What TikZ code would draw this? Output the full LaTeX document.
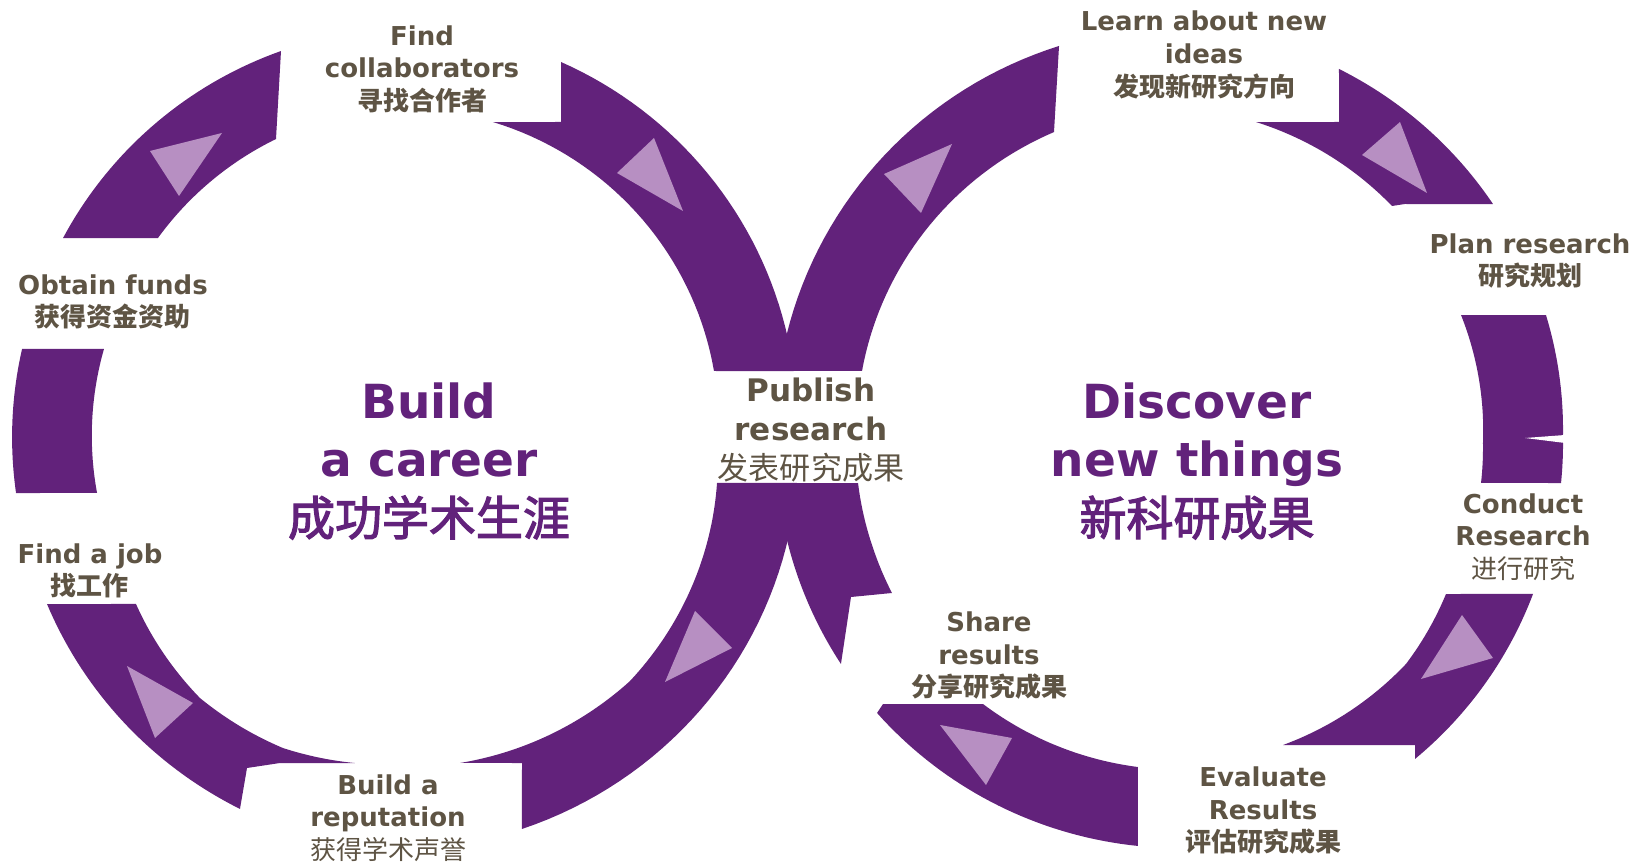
\documentclass[tikz,border=0pt]{standalone}
\usepackage{fontspec}
\setmainfont{DejaVu Sans}
\newfontfamily\cjk{Noto Sans CJK SC}
\newfontfamily\cjkhub{Noto Sans CJK SC}[FakeBold=2.5]
\definecolor{ringpurple}{RGB}{98,34,123}
\definecolor{tippurple}{RGB}{183,143,194}
\definecolor{labelbrown}{RGB}{94,84,68}
\newcommand\ringarc[6]{plot[domain=#3:#5,samples=36,variable=\t]
  ({#1+((#4)+((#6)-(#4))*(\t-(#3))/((#5)-(#3)))*cos(\t)},
   {#2+((#4)+((#6)-(#4))*(\t-(#3))/((#5)-(#3)))*sin(\t)})}
\newcommand\ringarcto[6]{-- plot[domain=#3:#5,samples=36,variable=\t]
  ({#1+((#4)+((#6)-(#4))*(\t-(#3))/((#5)-(#3)))*cos(\t)},
   {#2+((#4)+((#6)-(#4))*(\t-(#3))/((#5)-(#3)))*sin(\t)})}

\begin{document}
\begin{tikzpicture}[x=0.75pt,y=-0.75pt,
  tone/.style={fill=ringpurple},
  pointer/.style={fill=tippurple},
  lbl/.style={text=labelbrown,align=center,inner sep=0pt,
    font=\fontsize{19.5}{24.4}\selectfont\bfseries},
  hub/.style={text=ringpurple,align=center,inner sep=0pt,
    font=\fontsize{35.25}{44}\selectfont\bfseries}]
\useasboundingbox (0,0) rectangle (1643,863);

\fill[tone] \ringarc{407}{432}{-150.58}{394.9}{-108.3}{401.3} -- (276,139)
  \ringarcto{407}{432}{-114.1}{320.95}{-142.1}{315.7} -- cycle;
\fill[tone] \ringarc{407}{432}{-67.4}{400.8}{-8.95}{391.5}
  \ringarcto{407}{432}{-11.24}{313}{-74.5}{321.7} -- (561,122) -- cycle;
\fill[tone] \ringarc{407}{432}{7.45}{393.3}{73.85}{413.3} -- (522,763)
  \ringarcto{407}{432}{80.9}{335.2}{48.2}{334.3}
  \ringarcto{407}{432}{48.2}{334.3}{9.34}{314.2} -- cycle;
\fill[tone] \ringarc{407}{432}{154.46}{399}{113.9}{412.3} -- (247,768) -- (280,763)
  \ringarcto{407}{432}{98.93}{335.1}{111.43}{339.5}
  \ringarcto{407}{432}{111.43}{339.5}{127.9}{337.1}
  \ringarcto{407}{432}{127.9}{337.1}{147.6}{321} -- cycle;
\fill[tone] \ringarc{407}{432}{192.17}{393.8}{171.13}{395.7}
  \ringarcto{407}{432}{168.87}{315.9}{195.32}{314.2} -- cycle;

\fill[tone] \ringarc{1172}{440}{-170}{398.6}{-106}{409.9} -- (1054,132)
  \ringarcto{1172}{440}{-110.96}{329.8}{-167.45}{317.6} -- cycle;
\fill[tone] \ringarc{1172}{440}{-65.77}{406.9}{-36.32}{398.4} -- (1405,204)
  \ringarcto{1172}{440}{-46.77}{321.2}{-75.2}{328.9} -- (1339,122) -- cycle;
\fill[tone] \ringarc{1172}{440}{-18.48}{394.3}{-0.59}{391}
  \ringarcto{1172}{440}{-0.59}{391}{6.31}{391.4}
  \ringarcto{1172}{440}{7.92}{312}{0.55}{311}
  \ringarcto{1172}{440}{0.55}{311}{-23.39}{314.9} -- cycle;
\fill[white] (1525,438) -- (1565,435) -- (1565,443) -- cycle;
\fill[tone] \ringarc{1172}{440}{23.1}{392.5}{52.7}{401} -- (1415,745)
  \ringarcto{1172}{440}{70}{324.6}{43.75}{323.9}
  \ringarcto{1172}{440}{43.75}{323.9}{29.34}{314.3} -- cycle;
\fill[tone] \ringarc{1172}{440}{94.79}{407.4}{137.22}{401.9} -- (883,704)
  \ringarcto{1172}{440}{125.6}{324.7}{95.94}{328.8} -- cycle;
\fill[tone] \ringarc{1172}{440}{172.2}{316.9}{160.14}{317.9}
  \ringarcto{1172}{440}{160.14}{317.9}{151.35}{319.1} -- (851,597)
  \ringarcto{1172}{440}{145.92}{399.7}{164.98}{397.85}
  \ringarcto{1172}{440}{164.98}{397.85}{173.78}{397} -- cycle;

\foreach \tri in {{(150,151) -- (222,133) -- (179,196)},
                  {(617,173) -- (654,138) -- (683,211)},
                  {(695,611) -- (732,648) -- (665,682)},
                  {(127,666) -- (193,703) -- (155,738)},
                  {(884,174) -- (952,144) -- (921,213)},
                  {(1362,155) -- (1400,122) -- (1427,193)},
                  {(1462,615) -- (1493,658) -- (1421,679)},
                  {(940,725) -- (1012,738) -- (986,785)}}
	{\fill[pointer] \tri -- cycle;};

\node[lbl] (collab) at (422,69) {Find\\collaborators\\{\cjk 寻找合作者}};
\node[lbl] (funds) at (113,302) {Obtain funds\\{\cjk 获得资金资助}};
\node[lbl] (job) at (90,571) {Find a job\\{\cjk 找工作}};
\node[lbl] (reputation) at (388,818) {Build a\\reputation\\{\cjk\mdseries 获得学术声誉}};
\node[lbl,font=\fontsize{23.3}{29}\selectfont\bfseries] (publish) at (811,430)
  {Publish\\research\\{\cjk\mdseries 发表研究成果}};
\node[lbl] (learn) at (1204,55) {Learn about new\\ideas\\{\cjk 发现新研究方向}};
\node[lbl] (plan) at (1530,261) {Plan research\\{\cjk 研究规划}};
\node[lbl] (conduct) at (1523,537) {Conduct\\Research\\{\cjk\mdseries 进行研究}};
\node[lbl] (evaluate) at (1263,811) {Evaluate\\Results\\{\cjk 评估研究成果}};
\node[lbl] (share) at (989,656) {Share\\results\\{\cjk 分享研究成果}};

\node[hub] (career) at (429,461) {Build\\a career\\{\cjkhub\mdseries 成功学术生涯}};
\node[hub] (discover) at (1197,461) {Discover\\new things\\{\cjkhub\mdseries 新科研成果}};
\end{tikzpicture}
\end{document}
